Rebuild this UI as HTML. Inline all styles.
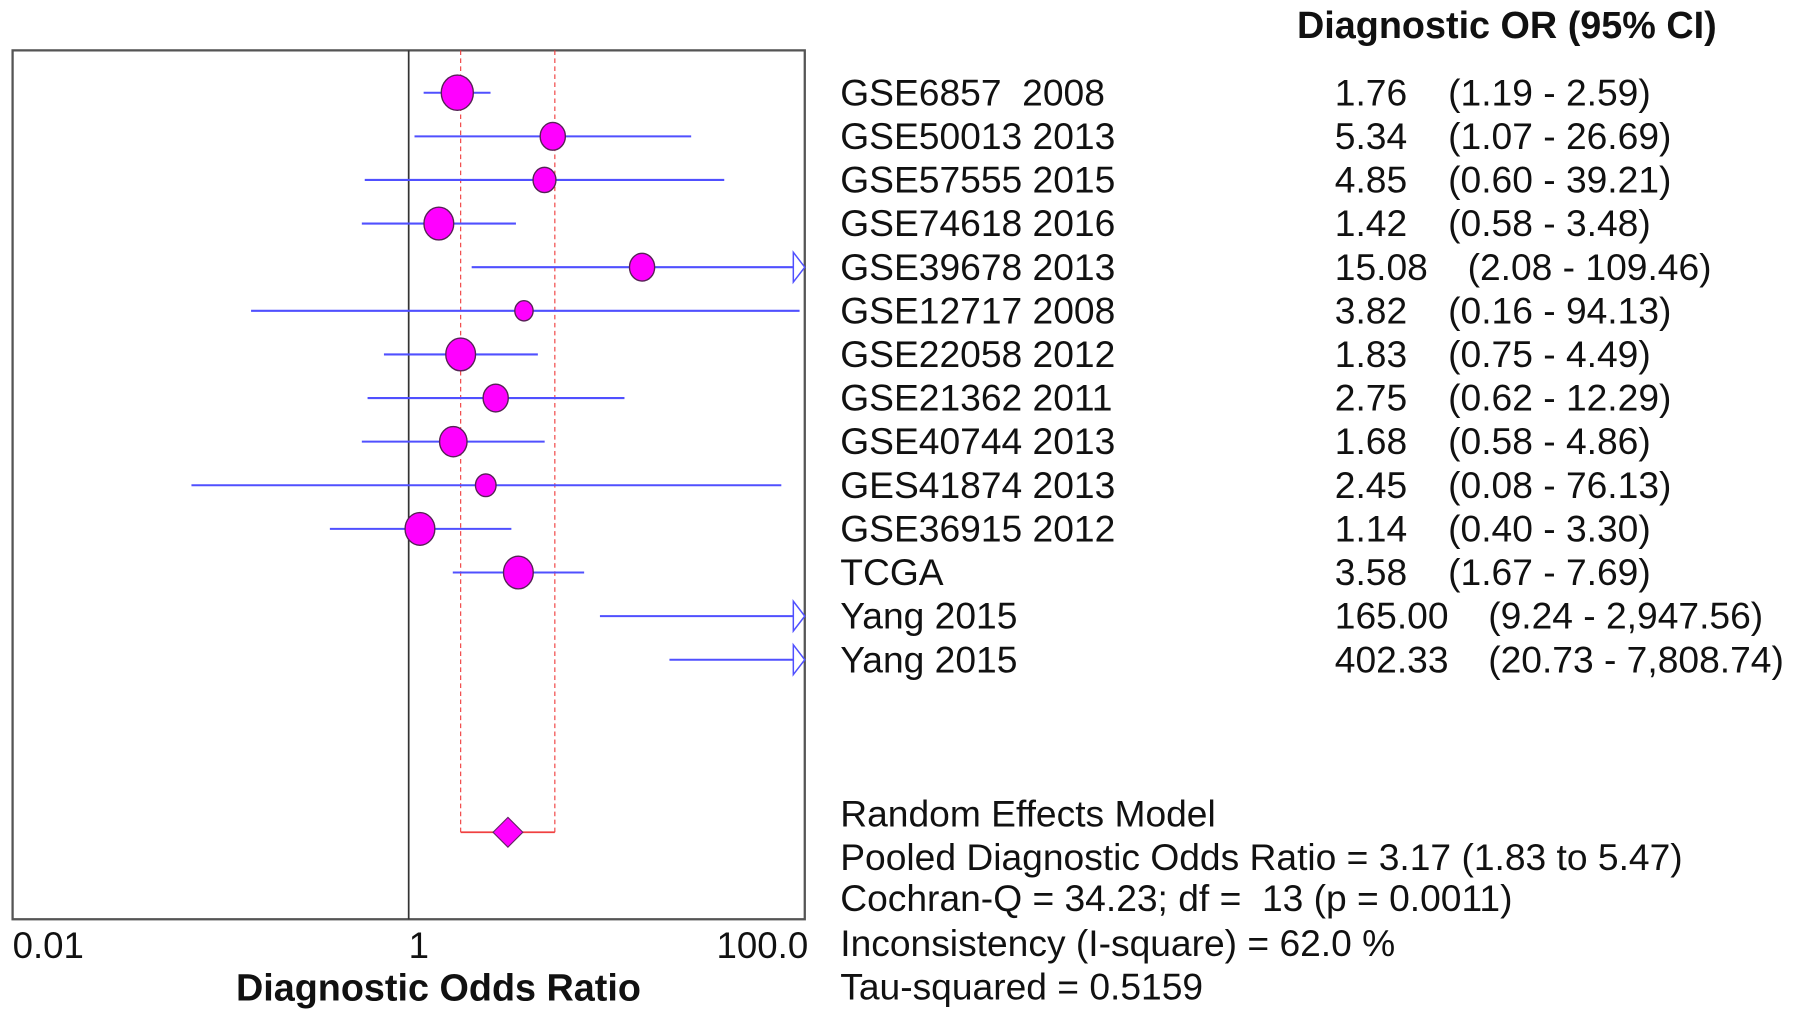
<!DOCTYPE html>
<html><head><meta charset="utf-8"><style>
html,body{margin:0;padding:0;background:#fff;width:1795px;height:1020px;overflow:hidden}
svg{display:block}
text{font-family:"Liberation Sans",Arial,sans-serif;fill:#111;white-space:pre}
</style></head><body>
<svg id="chart" width="1795" height="1020" viewBox="0 0 1568 891" preserveAspectRatio="none" xmlns="http://www.w3.org/2000/svg">
<rect x="11" y="44" width="692" height="759" fill="#fff" stroke="#555" stroke-width="2"/>
<g id="marks"></g>
<text x="1133" y="33" font-size="33" font-weight="bold">Diagnostic OR (95% CI)</text>
<text x="11" y="837" font-size="32">0.01</text>
<text x="357" y="837" font-size="32">1</text>
<text x="706" y="837" font-size="32" text-anchor="end">100.0</text>
<text x="383" y="874" font-size="33" font-weight="bold" text-anchor="middle">Diagnostic Odds Ratio</text>
<g font-size="32.5">
<text x="734" y="722">Random Effects Model</text>
<text x="734" y="760">Pooled Diagnostic Odds Ratio = 3.17 (1.83 to 5.47)</text>
<text x="734" y="796">Cochran-Q = 34.23; df =  13 (p = 0.0011)</text>
<text x="734" y="835">Inconsistency (I-square) = 62.0 %</text>
<text x="734" y="873">Tau-squared = 0.5159</text>
</g>
</svg>
<script>
const studies = ["GSE6857  2008","GSE50013 2013","GSE57555 2015","GSE74618 2016","GSE39678 2013","GSE12717 2008","GSE22058 2012","GSE21362 2011","GSE40744 2013","GES41874 2013","GSE36915 2012","TCGA","Yang 2015","Yang 2015"];
const orValues = [1.76,5.34,4.85,1.42,15.08,3.82,1.83,2.75,1.68,2.45,1.14,3.58,165.00,402.33];
const ciLow = [1.19,1.07,0.60,0.58,2.08,0.16,0.75,0.62,0.58,0.08,0.40,1.67,9.24,20.73];
const ciHigh = [2.59,26.69,39.21,3.48,109.46,94.13,4.49,12.29,4.86,76.13,3.30,7.69,2947.56,7808.74];
const weights = [14,11,10,13,11,8,13,11,12,9,13,13,10,10];
const pooled = [3.17];
const pooledLow = [1.83];
const pooledHigh = [5.47];

const NS="http://www.w3.org/2000/svg";
const g=document.getElementById('marks');
const X0=11,X1=703,LMIN=-2,LMAX=2;
function xScale(v){return X0+(Math.log10(v)-LMIN)/(LMAX-LMIN)*(X1-X0);}
const rowTop=81,rowStep=38.1;
function yScale(i){return rowTop+i*rowStep;}
const diamondY=727;
function mk(tag,attrs){const e=document.createElementNS(NS,tag);for(const k in attrs)e.setAttribute(k,attrs[k]);g.appendChild(e);return e;}
function fmt(v){return v.toLocaleString('en-US',{minimumFractionDigits:2,maximumFractionDigits:2});}

let ref=mk('line',{x1:xScale(1),x2:xScale(1),y1:44,y2:803,stroke:'#333','stroke-width':1.5});



let pl=mk('line',{x1:xScale(pooledLow[0]),x2:xScale(pooledLow[0]),y1:44,y2:diamondY,stroke:'#f04040','stroke-width':1,'stroke-dasharray':'4,3'});


let ph=mk('line',{x1:xScale(pooledHigh[0]),x2:xScale(pooledHigh[0]),y1:44,y2:diamondY,stroke:'#f04040','stroke-width':1,'stroke-dasharray':'4,3'});


let pb=mk('line',{x1:xScale(pooledLow[0]),x2:xScale(pooledHigh[0]),y1:diamondY,y2:diamondY,stroke:'#f04040','stroke-width':1.5});


const dx=xScale(pooled[0]);
let dm=mk('polygon',{points:`${dx-13},${diamondY} ${dx},${diamondY-13} ${dx+13},${diamondY} ${dx},${diamondY+13}`,fill:'#ff00ff',stroke:'#662266','stroke-width':1});



studies.forEach((s,i)=>{
  const y=yScale(i);
  const lo=Math.max(ciLow[i],0.01), hi=ciHigh[i];
  const x1=xScale(lo), x2=hi>100?X1-10:xScale(hi);
  const ln=mk('line',{x1:x1,x2:x2,y1:y,y2:y,stroke:'#5050ff','stroke-width':1.8});
  
  
  if(hi>100){
    const ar=mk('polygon',{points:`${X1-10},${y-13} ${X1},${y} ${X1-10},${y+13}`,fill:'#fff',stroke:'#5050ff','stroke-width':1.3});
    
    
  }
  if(orValues[i]<=100){
    const c=mk('ellipse',{cx:xScale(orValues[i]),cy:y,rx:weights[i],ry:weights[i]*1.1,fill:'#ff00ff',stroke:'#552255','stroke-width':1.2});
    
    
  }
  const t=mk('text',{x:734,y:y+11,'font-size':32.5});
  t.textContent=s;
  
  
  const vs=fmt(orValues[i]);
  const v=mk('text',{x:1166,y:y+11,'font-size':32.5});
  v.textContent=vs;
  
  
  const cx=vs.length>=6?1300:(vs.length==5?1282:1265);
  const ci=mk('text',{x:cx,y:y+11,'font-size':32.5});
  ci.textContent='('+fmt(ciLow[i])+' - '+fmt(ciHigh[i])+')';
  
  
});
</script>
</body></html>
